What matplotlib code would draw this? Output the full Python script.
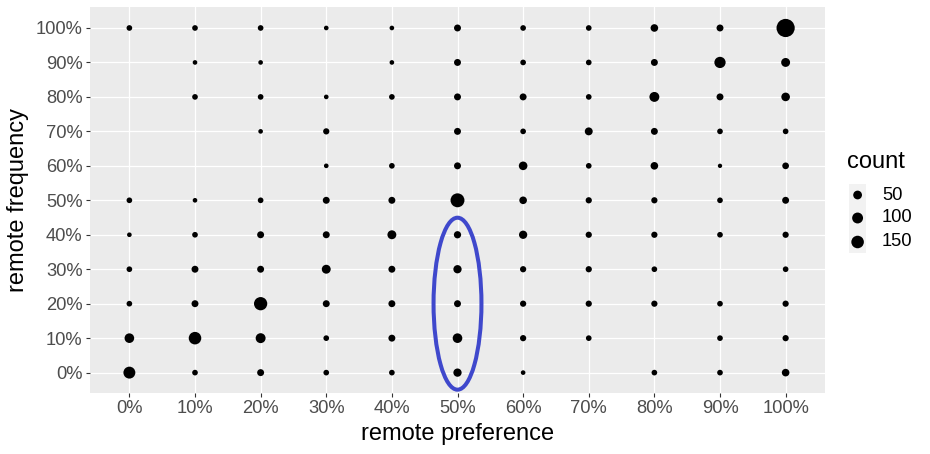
import matplotlib
matplotlib.use("Agg")
import matplotlib.pyplot as plt
import numpy as np
from matplotlib.patches import Ellipse, Rectangle

plt.rcParams['font.family'] = ['Liberation Sans', 'DejaVu Sans']

# ---- data ----
pref_labels = ["0%", "10%", "20%", "30%", "40%", "50%", "60%", "70%", "80%", "90%", "100%"]
freq_labels = ["0%", "10%", "20%", "30%", "40%", "50%", "60%", "70%", "80%", "90%", "100%"]

# counts[row = remote frequency (0%..100%)][col = remote preference (0%..100%)]
freq_0   = [130,   8,  21,   8,   8,  41,   2,   0,   8,   8,  30]
freq_10  = [ 68, 150,  75,   8,  21,  68,  13,   8,   0,   8,  13]
freq_20  = [  8,  21, 175,  21,  21,  21,  13,  13,  13,   8,  13]
freq_30  = [  8,  21,  21,  53,  21,  41,  13,  13,   8,   0,   8]
freq_40  = [  2,   8,  21,  21,  53,  25,  41,  13,  13,   8,  13]
freq_50  = [  8,   2,   8,  21,  21, 200,  30,  13,  13,   8,  21]
freq_60  = [  0,   0,   0,   2,   8,  21,  47,   8,  30,   1,  18]
freq_70  = [  0,   0,   2,  13,   0,  21,   8,  35,  21,   8,   8]
freq_80  = [  0,   8,   8,   2,   8,  21,  21,   8,  75,  21,  47]
freq_90  = [  0,   2,   2,   0,   2,  21,   8,   8,  21, 110,  53]
freq_100 = [  8,   8,   8,   2,   2,  21,   8,   8,  30,  21, 400]

legend_values = [50, 100, 150]

counts = np.array([freq_0, freq_10, freq_20, freq_30, freq_40, freq_50,
                   freq_60, freq_70, freq_80, freq_90, freq_100], dtype=float)

def marker_area(v):
    d_px = 3.6 + 0.73 * np.sqrt(np.asarray(v, dtype=float))
    d_pt = d_px * 72.0 / 100.0
    return d_pt ** 2

W, H = 930, 454
fig = plt.figure(figsize=(W / 100, H / 100), dpi=100)
fig.patch.set_facecolor("white")

L, R, T, B = 90, 825, 7.3, 393.3
ax = fig.add_axes([L / W, 1 - B / H, (R - L) / W, (B - T) / H])
ax.set_facecolor("#EBEBEB")
for s in ax.spines.values():
    s.set_visible(False)

ax.set_xlim(-0.6, len(pref_labels) - 1 + 0.6)
ax.set_ylim(-0.6, len(freq_labels) - 1 + 0.6)
ax.set_xticks(range(len(pref_labels)))
ax.set_xticklabels(pref_labels)
ax.set_yticks(range(len(freq_labels)))
ax.set_yticklabels(freq_labels)
ax.grid(True, color="white", linewidth=0.9, zorder=0)
ax.set_axisbelow(True)
ax.tick_params(axis="both", length=2.6, width=0.8, color="#333333",
               labelsize=13.2, labelcolor="#4D4D4D")
ax.tick_params(axis="x", pad=2.5)
ax.tick_params(axis="y", pad=2.8)

yy, xx = np.nonzero(counts > 0)
ax.scatter(xx, yy, s=marker_area(counts[yy, xx]), c="black",
           linewidths=0, zorder=3)

ell = Ellipse((5, 2), width=0.73, height=4.99, fill=False,
              edgecolor="#3F48CC", linewidth=2.9, zorder=4, clip_on=False)
ax.add_patch(ell)

ax.set_xlabel("remote preference", fontsize=17, color="black")
ax.xaxis.set_label_coords(0.5, -(434 - B) / (B - T))
ax.xaxis.label.set_va("center")
ax.set_ylabel("remote frequency", fontsize=17, color="black")
ax.yaxis.set_label_coords(-(L - 18) / (R - L), 0.5)
ax.yaxis.label.set_va("center")

# ---- legend (overlay in pixel coordinates) ----
lg = fig.add_axes([0, 0, 1, 1], facecolor="none")
lg.set_xlim(0, W)
lg.set_ylim(H, 0)
lg.axis("off")
lg.add_patch(Rectangle((849, 184), 17.3, 69, facecolor="#F2F2F2",
                       edgecolor="none"))
key_y = [195, 218, 242]
lg.scatter([857.6] * len(legend_values), key_y, s=marker_area(legend_values),
           c="black", linewidths=0)
for v, y in zip(legend_values, key_y):
    lg.text(882, y, str(v), fontsize=13.2, color="black", ha="left", va="center")
lg.text(847, 162, "count", fontsize=17, color="black", ha="left", va="center")

fig.savefig("out.png", dpi=100)
